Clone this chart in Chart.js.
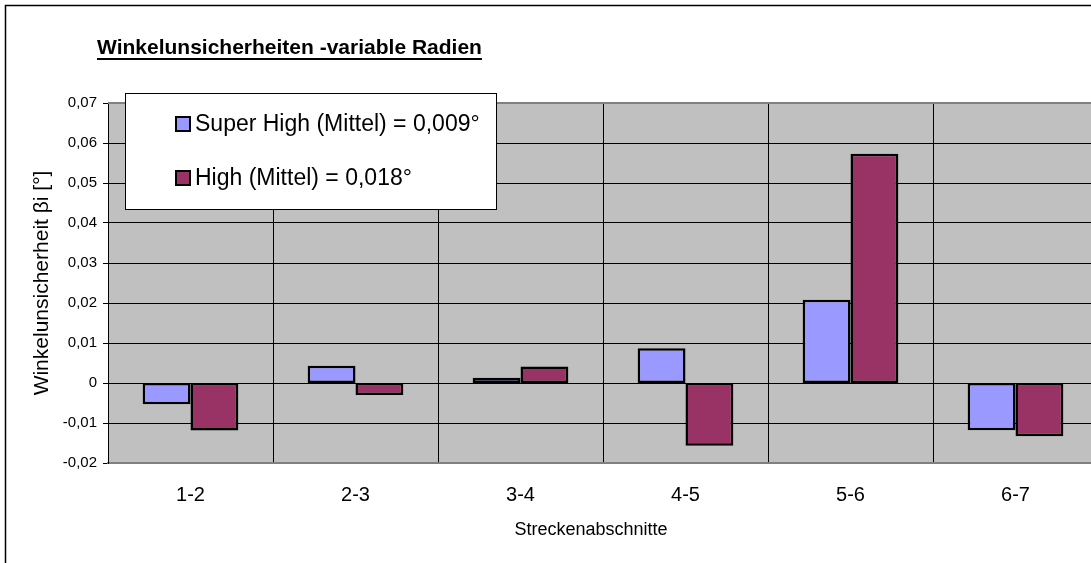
<!DOCTYPE html>
<html>
<head>
<meta charset="utf-8">
<script src="https://cdn.jsdelivr.net/npm/chart.js@4"></script>
<style>
  html, body { margin: 0; padding: 0; background: #fff; overflow: hidden; }
  canvas { display: block; }
</style>
</head>
<body>
<canvas id="winkel" width="1110" height="563"></canvas>
<script>
const abschnitte = ["1-2", "2-3", "3-4", "4-5", "5-6", "6-7"];
const superHigh = [-0.0053, 0.0043, 0.0013, 0.0087, 0.0208, -0.0118];
const high = [-0.0119, -0.0030, 0.0041, -0.0157, 0.0573, -0.0133];
const serien = ["Super High (Mittel) = 0,009°", "High (Mittel) = 0,018°"];
const farben = ["#9999FF", "#993366"];
const titel = "Winkelunsicherheiten -variable Radien";
const xTitel = "Streckenabschnitte";

const schrift = 'Arial, "Liberation Sans", sans-serif';

// grauer Hintergrund, Rahmen, Titel, x-Achsentitel und Legende
const rahmen = {
    id: 'rahmen',
    beforeDraw(chart) {
        const { ctx, chartArea: a } = chart;
        ctx.save();
        ctx.fillStyle = '#fff';
        ctx.fillRect(0, 0, chart.width, chart.height);
        ctx.fillStyle = '#C0C0C0';
        ctx.fillRect(a.left, a.top, a.right - a.left, a.bottom - a.top);
        ctx.restore();
    },
    afterDraw(chart) {
        const { ctx, chartArea: a } = chart;
        ctx.save();
        // obere Kante der Zeichenfläche
        ctx.strokeStyle = '#808080';
        ctx.lineWidth = 2;
        ctx.beginPath();
        ctx.moveTo(a.left, a.top);
        ctx.lineTo(a.right, a.top);
        ctx.stroke();

        // äußerer Rahmen
        ctx.strokeStyle = '#000';
        ctx.lineWidth = 1.5;
        ctx.strokeRect(5.5, 5.5, chart.width + 20, chart.height + 20);

        // Titel, unterstrichen
        ctx.fillStyle = '#000';
        ctx.font = 'bold 21px ' + schrift;
        ctx.textBaseline = 'alphabetic';
        ctx.fillText(titel, 97, 54);
        const w = ctx.measureText(titel).width;
        ctx.fillRect(97, 58, w, 2);

        // Achsentitel unten, auf die ganze Diagrammbreite zentriert
        ctx.font = '18px ' + schrift;
        ctx.textAlign = 'center';
        ctx.textBaseline = 'middle';
        ctx.fillText(xTitel, 591, 530);
        ctx.textAlign = 'left';

        // Legende
        const bx = 125, by = 93, bw = 371, bh = 116;
        ctx.fillStyle = '#fff';
        ctx.fillRect(bx, by, bw, bh);
        ctx.strokeStyle = '#000';
        ctx.lineWidth = 1;
        ctx.strokeRect(bx + 0.5, by + 0.5, bw, bh);
        ctx.font = '23px ' + schrift;
        chart.data.datasets.forEach((ds, i) => {
            const y = 124 + i * 54;
            ctx.fillStyle = ds.backgroundColor;
            ctx.fillRect(176, y - 7, 14, 14);
            ctx.lineWidth = 2;
            ctx.strokeRect(176, y - 7, 14, 14);
            ctx.fillStyle = '#000';
            ctx.fillText(ds.label, 195, y + 1);
        });
        ctx.restore();
    }
};

new Chart(document.getElementById('winkel'), {
    type: 'bar',
    data: {
        labels: abschnitte,
        datasets: [
            { label: serien[0], data: superHigh, backgroundColor: farben[0] },
            { label: serien[1], data: high, backgroundColor: farben[1] }
        ]
    },
    options: {
        responsive: false,
        animation: false,
        devicePixelRatio: 1,
        layout: { padding: { top: 103, right: 12, bottom: 0, left: 0 } },
        datasets: {
            bar: {
                borderColor: '#000',
                borderWidth: 2.5,
                borderSkipped: false,
                categoryPercentage: 0.58,
                barPercentage: 1
            }
        },
        plugins: {
            legend: { display: false },
            title: { display: false },
            tooltip: { enabled: false }
        },
        scales: {
            x: {
                afterFit(scale) { scale.height = 100; },
                grid: { color: '#000', lineWidth: 1, offset: true, drawTicks: false },
                border: { color: '#808080', width: 2 },
                ticks: { color: '#000', padding: 20, font: { family: schrift, size: 20 } }
            },
            y: {
                min: -0.02,
                max: 0.07,
                afterFit(scale) { scale.width = 108; },
                grid: { color: '#000', lineWidth: 1, tickLength: 5 },
                border: { color: '#000', width: 1 },
                ticks: {
                    stepSize: 0.01,
                    color: '#000',
                    padding: 6,
                    font: { family: schrift, size: 15 },
                    callback: v => Math.abs(v) < 1e-9 ? '0' : v.toFixed(2).replace('.', ',')
                },
                title: {
                    display: true,
                    text: 'Winkelunsicherheit βi [°]',
                    color: '#000',
                    font: { family: schrift, size: 21 },
                    padding: { top: 30, bottom: 0 }
                }
            }
        }
    },
    plugins: [rahmen]
});
</script>
</body>
</html>
